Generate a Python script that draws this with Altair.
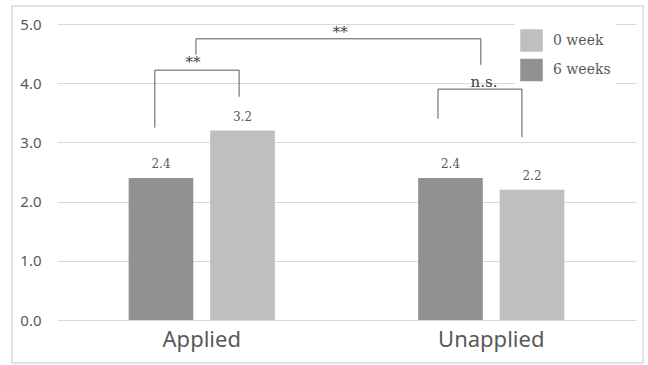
import altair as alt
import pandas as pd

# Mean scores per group and measurement time
groups = ["Applied", "Applied", "Unapplied", "Unapplied"]
periods = ["6 weeks", "0 week", "6 weeks", "0 week"]
scores = [2.4, 3.2, 2.4, 2.2]

# Significance brackets (x: 0..2 across the two groups, y: score units)
bracket_x_left = [0.338, 0.480, 1.316]
bracket_x_right = [0.629, 1.464, 1.606]
bracket_top = [4.22, 4.75, 3.90]
left_leg_end = [3.25, 4.48, 3.40]
right_leg_end = [3.77, 4.31, 3.09]
bracket_text = ["**", "**", "n.s."]
bracket_text_x = [0.470, 0.978, 1.475]
bracket_text_y = [4.35, 4.87, 4.02]

GRAY_TEXT = "#595959"
SERIF = "DejaVu Serif"
SANS = "Noto Sans"

bars_df = pd.DataFrame({"group": groups, "period": periods, "score": scores})

segments = []
for xl, xr, top, lb, rb in zip(bracket_x_left, bracket_x_right, bracket_top,
                               left_leg_end, right_leg_end):
    segments.append({"x": xl, "x2": xl, "y": lb, "y2": top})
    segments.append({"x": xl, "x2": xr, "y": top, "y2": top})
    segments.append({"x": xr, "x2": xr, "y": rb, "y2": top})
seg_df = pd.DataFrame(segments)
sig_df = pd.DataFrame({"x": bracket_text_x, "y": bracket_text_y, "label": bracket_text})

W, H = 579, 296

y_scale = alt.Scale(domain=[0, 5], nice=False)
band_scale = alt.Scale(paddingInner=0.495, paddingOuter=0.2475)
x_axis = alt.Axis(labelFont=SANS, labelFontSize=22, labelColor=GRAY_TEXT,
                  labelPadding=9, domain=False, ticks=False, labelAngle=0)
x_band = alt.X("group:N", title=None, sort=["Applied", "Unapplied"],
               scale=band_scale, axis=x_axis)
x_off = alt.XOffset("period:N", sort=["6 weeks", "0 week"],
                    scale=alt.Scale(paddingInner=0.207, paddingOuter=0))

bars = alt.Chart(bars_df).mark_bar().encode(
    x=x_band,
    xOffset=x_off,
    y=alt.Y("score:Q", title=None, scale=y_scale,
            axis=alt.Axis(values=[0, 1, 2, 3, 4, 5], format=".1f",
                          labelFont=SANS, labelFontSize=15, labelColor=GRAY_TEXT,
                          labelPadding=16, domain=False, ticks=False,
                          grid=True, gridColor="#d9d9d9", gridWidth=1)),
    color=alt.Color("period:N",
                    scale=alt.Scale(domain=["0 week", "6 weeks"],
                                    range=["#bfbfbf", "#919191"]),
                    legend=alt.Legend(title=None, orient="none", legendX=458, legendY=0,
                                      symbolType="square", symbolSize=506,
                                      symbolStrokeWidth=0, symbolOpacity=1,
                                      labelFont=SERIF, labelFontSize=14,
                                      labelColor=GRAY_TEXT, labelOffset=10,
                                      rowPadding=6.5, padding=5,
                                      fillColor="white")),
)

values = alt.Chart(bars_df).mark_text(
    font=SERIF, fontSize=12, color=GRAY_TEXT, baseline="bottom", dy=-7
).encode(
    x=x_band,
    xOffset=x_off,
    y=alt.Y("score:Q", scale=y_scale),
    text=alt.Text("score:Q", format=".1f"),
)

x_lin = alt.Scale(domain=[0, 2], nice=False, zero=False)

rules = alt.Chart(seg_df).mark_rule(color=GRAY_TEXT, strokeWidth=1).encode(
    x=alt.X("x:Q", scale=x_lin, axis=None),
    x2="x2:Q",
    y=alt.Y("y:Q", scale=y_scale),
    y2="y2:Q",
)

sig_text = alt.Chart(sig_df).mark_text(
    font=SERIF, fontSize=15, color="#404040", baseline="middle"
).encode(
    x=alt.X("x:Q", scale=x_lin, axis=None),
    y=alt.Y("y:Q", scale=y_scale),
    text="label:N",
)

frame = alt.Chart(pd.DataFrame({"k": [0]})).mark_rect(
    fill=None, stroke="#d9d9d9", strokeWidth=1.5
).encode(
    x=alt.value(-45), x2=alt.value(586), y=alt.value(-18), y2=alt.value(339)
)

chart = alt.layer(
    alt.layer(bars, values),
    alt.layer(rules, sig_text, frame),
).resolve_scale(x="independent").properties(
    width=W, height=H,
    autosize=alt.AutoSizeParams(type="none"),
    padding={"left": 57, "top": 24, "right": 12, "bottom": 45},
    background="white",
).configure_view(stroke=None)

chart.save("out.html", embed_options={"renderer": "svg", "actions": False})
